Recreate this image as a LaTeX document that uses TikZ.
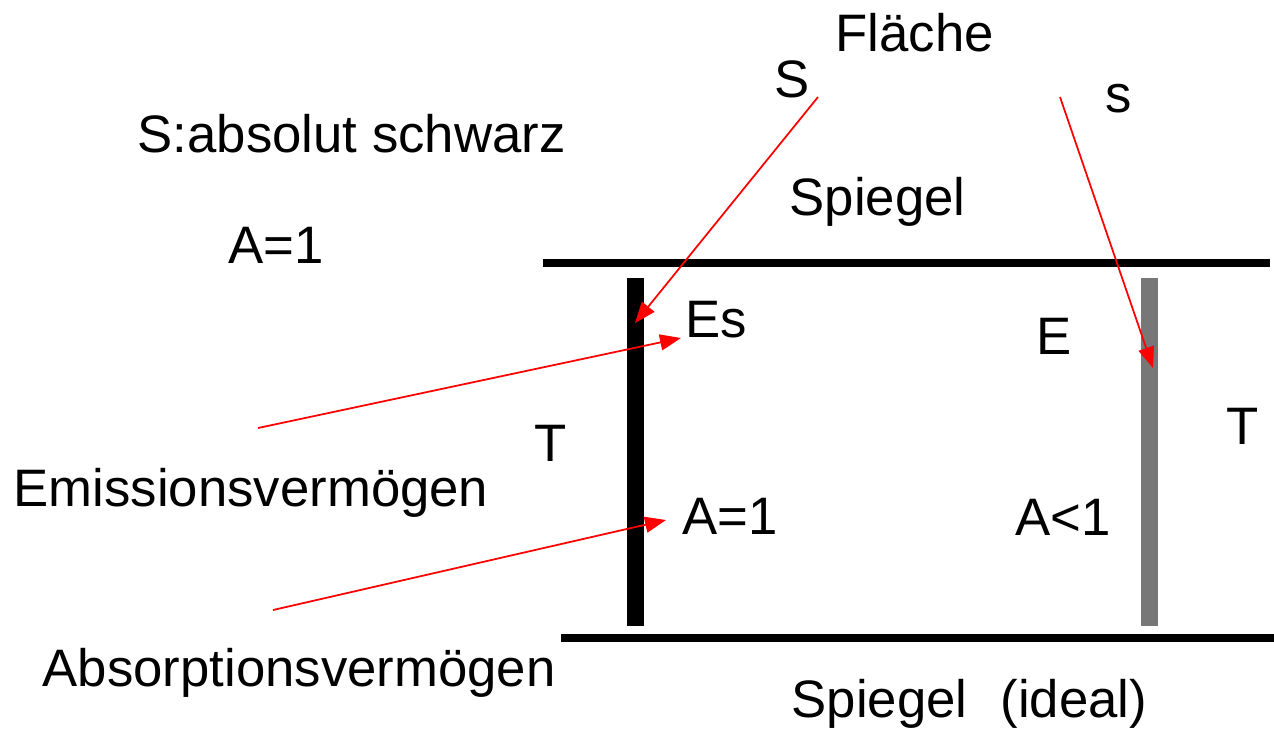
\documentclass[tikz,border=0pt]{standalone}
\usepackage{fontspec}
\setmainfont{Liberation Sans}
\usetikzlibrary{arrows.meta}
\definecolor{slabgray}{HTML}{777777}
\begin{document}
\begin{tikzpicture}[
    lbl/.style={anchor=base west, inner sep=0pt, font=\fontsize{15pt}{18pt}\selectfont},
    ray/.style={red, line width=0.5pt, -{Triangle[length=0.21cm, width=0.16cm]}},
    mirror/.style={line width=0.08cm}
]
    \useasboundingbox (0,0) rectangle (12.74,7.29);

    % Mirrors
    \draw[mirror] (5.43,4.66) -- (12.70,4.66);
    \draw[mirror] (5.61,0.91) -- (12.74,0.91);

    % Black and grey surfaces
    \fill[black] (6.27,1.03) rectangle (6.44,4.51);
    \fill[slabgray] (11.41,1.03) rectangle (11.58,4.51);

    % Labels
    \node[lbl] (flaeche) at (8.35,6.78) {Fläche};
    \node[lbl] (bigS) at (7.74,6.32) {S};
    \node[lbl] (smallS) at (11.05,6.17) {s};
    \node[lbl] (schwarz) at (1.37,5.77) {S:absolut schwarz};
    \node[lbl] (aout) at (2.28,4.66) {A=1};
    \node[lbl] (spiegelTop) at (7.89,5.14) {Spiegel};
    \node[lbl] (es) at (6.85,3.92) {Es};
    \node[lbl] (e) at (10.36,3.75) {E};
    \node[lbl] (tLeft) at (5.34,2.68) {T};
    \node[lbl] (tRight) at (12.26,2.85) {T};
    \node[lbl] (emission) at (0.13,2.23) {Emissionsvermögen};
    \node[lbl] (ain) at (6.82,1.95) {A=1};
    \node[lbl] (aless) at (10.15,1.94) {A<1};
    \node[lbl] (absorption) at (0.42,0.43) {Absorptionsvermögen};
    \node[lbl] (spiegelBot) at (7.91,0.12) {Spiegel\hspace{0.33cm}(ideal)};

    % Rays
    \coordinate (rayA) at (8.18,6.32);
    \coordinate (hitA) at (6.35,4.06);
    \coordinate (rayB) at (10.60,6.32);
    \coordinate (hitB) at (11.53,3.61);
    \coordinate (emStart) at (2.58,3.01);
    \coordinate (emTip) at (6.81,3.91);
    \coordinate (abStart) at (2.73,1.19);
    \coordinate (abTip) at (6.66,2.09);
    \draw[ray] (rayA) -- (hitA);
    \draw[ray] (rayB) -- (hitB);
    \draw[ray] (emStart) -- (emTip);
    \draw[ray] (abStart) -- (abTip);
\end{tikzpicture}
\end{document}
